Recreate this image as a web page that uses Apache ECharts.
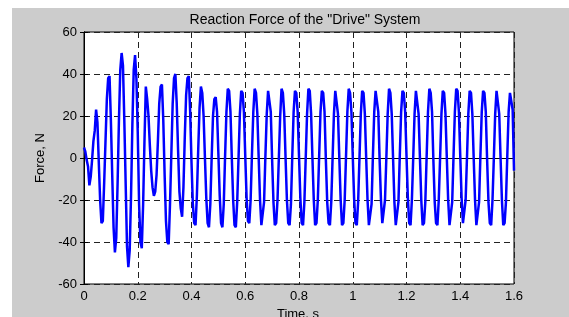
<!DOCTYPE html>
<html>
<head>
<meta charset="utf-8">
<script src="https://cdn.jsdelivr.net/npm/echarts@6/dist/echarts.min.js"></script>
<style>
  html, body { margin: 0; padding: 0; background: #ffffff; }
  #chart { width: 569px; height: 317px; }
</style>
</head>
<body>
<div id="chart"></div>
<script>
  // sample step of the force trace, s
  var dt = 0.005;

  // start-up transient, 0 .. 0.445 s
  var forceStart = [
    5, 3, -1, -4, -13, -9, -1, 8, 13, 23,
    17, -2, -20, -31, -30, -12, 8, 28, 38, 39,
    18, -8, -33, -45, -38, -12, 18, 42, 50, 44,
    18, -12, -42, -52, -44, -18, 16, 42, 49, 38,
    12, -22, -40, -43, -22, 8, 34, 28, 20, 6,
    -6, -14, -18, -16, -8, 8, 26, 34, 35, 18,
    -8, -30, -40, -41, -22, 2, 26, 38, 40, 26,
    4, -16, -24, -28, -14, 10, 30, 38, 39, 22,
    -2, -22, -31, -32, -18, 4, 24, 34, 31, 20
  ];

  // steady oscillation, 0.45 .. 1.6 s (one row per 0.05 s cycle)
  var forceSteady = [
    0, -19, -31, -33, -22, 0, 20, 28, 29, 22,
    2, -18, -31, -33, -22, 1, 22, 33, 32, 22,
    0, -20, -32, -33, -21, 0, 21, 32, 31, 22,
    1, -19, -30, -31, -20, 2, 22, 33, 31, 21,
    0, -20, -32, -32, -21, 1, 21, 32, 32, 22,
    -1, -21, -32, -31, -20, 0, 20, 33, 31, 21,
    0, -20, -31, -32, -22, 1, 22, 32, 31, 22,
    1, -19, -31, -32, -21, 0, 21, 33, 32, 21,
    0, -20, -32, -31, -20, 1, 22, 32, 31, 22,
    -1, -21, -31, -32, -21, 0, 21, 32, 32, 21,
    0, -20, -32, -31, -20, 1, 22, 33, 31, 22,
    1, -19, -31, -32, -21, 0, 21, 32, 31, 21,
    0, -20, -32, -32, -22, 1, 22, 32, 32, 22,
    -1, -20, -31, -31, -20, 0, 21, 33, 31, 21,
    0, -21, -32, -32, -21, 1, 22, 32, 31, 22,
    1, -19, -31, -32, -20, 0, 21, 32, 32, 21,
    0, -20, -32, -31, -21, 1, 22, 33, 31, 22,
    -1, -21, -31, -32, -20, 0, 21, 32, 31, 21,
    0, -20, -32, -32, -21, 1, 22, 33, 32, 22,
    1, -19, -31, -31, -20, 0, 21, 32, 31, 21,
    0, -20, -32, -32, -21, 1, 22, 32, 31, 22,
    -1, -21, -31, -32, -20, 0, 21, 32, 32, 21,
    0, -20, -32, -31, -21, 1, 22, 31, 31, 23,
    -6
  ];

  var xTicks = [0, 0.2, 0.4, 0.6, 0.8, 1, 1.2, 1.4, 1.6];
  var yTicks = [-60, -40, -20, 0, 20, 40, 60];

  var force = forceStart.concat(forceSteady);
  var points = force.map(function (v, i) {
    return [+(i * dt).toFixed(3), v];
  });

  var myChart = echarts.init(document.getElementById('chart'));
  var font = 'Arial, "Liberation Sans", sans-serif';

  var tickAxis = {
    axisLine: { show: true, lineStyle: { color: '#000', width: 1 } },
    axisTick: { show: true, inside: true, length: 4, lineStyle: { color: '#000' } }
  };

  var option = {
    backgroundColor: '#ffffff',
    animation: false,
    graphic: [
      { type: 'rect', shape: { x: 12, y: 8, width: 557, height: 309 }, style: { fill: '#cccccc' }, z: -10 },
      {
        type: 'text', x: 305, y: 20, z: 10,
        style: { text: 'Reaction Force of the "Drive" System', fill: '#000', font: '14px ' + font, textAlign: 'center', textVerticalAlign: 'middle' }
      },
      {
        type: 'text', x: 298, y: 314, z: 10,
        style: { text: 'Time, s', fill: '#000', font: '13px ' + font, textAlign: 'center', textVerticalAlign: 'middle' }
      }
    ],
    grid: {
      left: 84,
      right: 55,
      top: 32,
      bottom: 33,
      show: true,
      backgroundColor: '#ffffff',
      borderColor: '#000',
      borderWidth: 1
    },
    xAxis: [
      Object.assign({
        type: 'value', position: 'bottom',
        min: xTicks[0], max: xTicks[xTicks.length - 1], interval: 0.2,
        axisLabel: { color: '#000', fontSize: 13, fontFamily: font, margin: 6 },
        splitLine: { show: true, lineStyle: { color: '#222', type: [6, 4], width: 1 } }
      }, tickAxis),
      Object.assign({
        type: 'value', position: 'top',
        min: xTicks[0], max: xTicks[xTicks.length - 1], interval: 0.2,
        axisLabel: { show: false }, splitLine: { show: false }
      }, tickAxis)
    ],
    yAxis: [
      Object.assign({
        type: 'value', position: 'left',
        min: yTicks[0], max: yTicks[yTicks.length - 1], interval: 20,
        name: 'Force, N', nameLocation: 'middle', nameGap: 29,
        nameTextStyle: { color: '#000', fontSize: 13, fontFamily: font },
        axisLabel: { color: '#000', fontSize: 13, fontFamily: font, margin: 7 },
        splitLine: { show: true, lineStyle: { color: '#222', type: [6, 4], width: 1 } }
      }, tickAxis),
      Object.assign({
        type: 'value', position: 'right',
        min: yTicks[0], max: yTicks[yTicks.length - 1], interval: 20,
        axisLabel: { show: false }, splitLine: { show: false }
      }, tickAxis)
    ],
    series: [
      {
        type: 'line',
        data: points,
        showSymbol: false,
        lineStyle: { color: '#0000ff', width: 2.5 },
        z: 5
      }
    ]
  };
  myChart.setOption(option);
</script>
</body>
</html>
